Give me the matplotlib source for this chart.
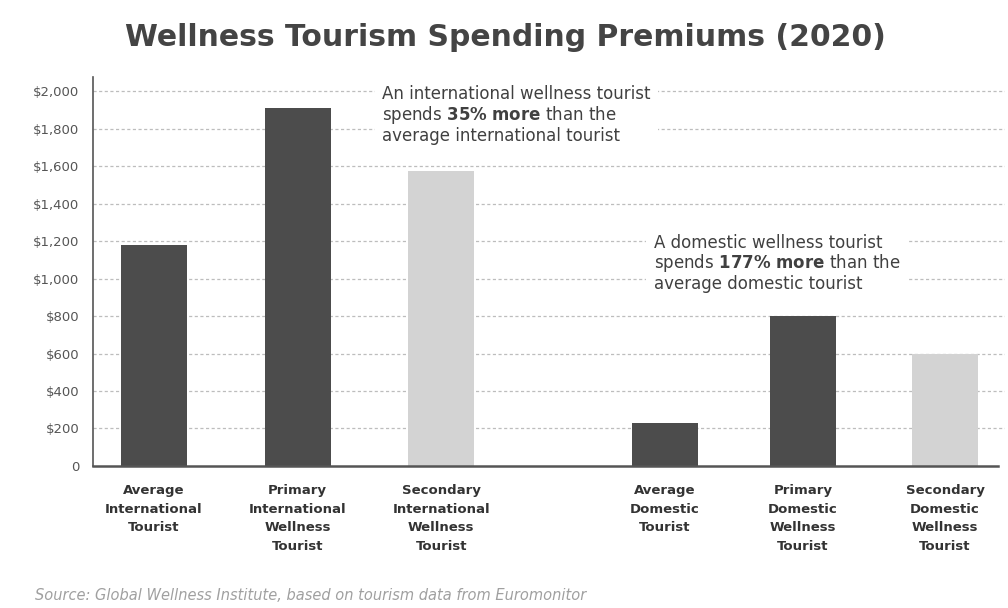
import matplotlib
matplotlib.use("Agg")
import matplotlib.pyplot as plt

plt.rcParams['font.family'] = ['DejaVu Sans']
plt.rcParams['mathtext.fontset'] = 'dejavusans'

categories = [
    "Average\nInternational\nTourist",
    "Primary\nInternational\nWellness\nTourist",
    "Secondary\nInternational\nWellness\nTourist",
    "Average\nDomestic\nTourist",
    "Primary\nDomestic\nWellness\nTourist",
    "Secondary\nDomestic\nWellness\nTourist",
]
spending = [1180, 1910, 1575, 230, 800, 600]
y_ticks = [0, 200, 400, 600, 800, 1000, 1200, 1400, 1600, 1800, 2000]
y_tick_labels = ["0", "$200", "$400", "$600", "$800", "$1,000", "$1,200",
                 "$1,400", "$1,600", "$1,800", "$2,000"]

positions = [0, 1, 2, 3.56, 4.52, 5.51]
dark = "#4c4c4c"
light = "#d3d3d3"
bar_colors = [dark, dark, light, dark, dark, light]

fig = plt.figure(figsize=(10.08, 6.08), dpi=100)
ax = fig.add_axes([0.0923, 0.2336, 0.905, 0.6397])

ax.bar(positions, spending, width=0.46, color=bar_colors, zorder=2)

ax.set_xlim(-0.425, 5.93)
ax.set_ylim(0, 2075)
ax.set_yticks(y_ticks)
ax.set_yticklabels(y_tick_labels, fontsize=9.5, color="#555555")
ax.tick_params(axis="y", length=0, pad=10)
ax.set_xticks(positions)
ax.set_xticklabels(categories, fontsize=9.5, fontweight="bold", color="#333333",
                   linespacing=1.55, va="top")
ax.tick_params(axis="x", length=0, pad=13)

for t in y_ticks[1:]:
    ax.axhline(t, color="#bdbdbd", lw=0.9, ls=(0, (2.5, 2)), zorder=1)

for side in ["top", "right"]:
    ax.spines[side].set_visible(False)
ax.spines["left"].set_color("#555555")
ax.spines["left"].set_linewidth(1.2)
ax.spines["bottom"].set_color("#555555")
ax.spines["bottom"].set_linewidth(1.8)
ax.spines["bottom"].set_bounds(-0.425, 5.88)

fig.text(0.501, 0.9375, "Wellness Tourism Spending Premiums (2020)",
         ha="center", va="center", fontsize=21.5, fontweight="bold", color="#444444")

note_kw = dict(fontsize=12, color="#404040", linespacing=1.05, va="top", ha="left",
               bbox=dict(boxstyle="square,pad=0.45", fc="white", ec="none"), zorder=3)
ax.text(1.59, 2030,
        "An international wellness tourist\n"
        r"spends $\mathbf{35\%\ more}$ than the" "\n"
        "average international tourist",
        **note_kw)
ax.text(3.48, 1240,
        "A domestic wellness tourist\n"
        r"spends $\mathbf{177\%\ more}$ than the" "\n"
        "average domestic tourist",
        **note_kw)

fig.text(0.035, 0.008, "Source: Global Wellness Institute, based on tourism data from Euromonitor",
         fontsize=10.5, style="italic", color="#a0a0a0", ha="left", va="bottom")

fig.savefig("out.png", dpi=100)
